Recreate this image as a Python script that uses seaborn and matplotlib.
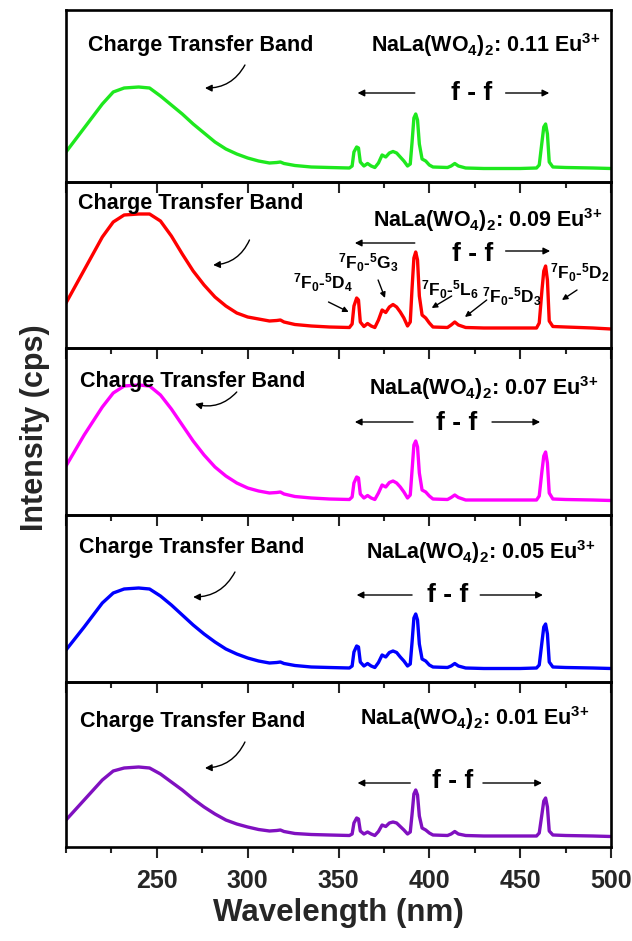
import numpy as np
import pandas as pd
import matplotlib
matplotlib.use("Agg")
import matplotlib.pyplot as plt
import seaborn as sns
from matplotlib.ticker import MultipleLocator

# ---------------- data ----------------
wavelength = [200, 210, 220, 226, 232, 240, 246, 252, 258, 264, 270, 276, 282, 288, 294,
              300, 306, 312, 316, 318, 320, 326, 335, 345, 356, 357.5, 358.5, 360, 361,
              362, 364, 366, 368, 370, 372, 374, 376, 378, 380, 382, 384, 386, 388,
              389.5, 390.5, 391.5, 392.5, 393.5, 394.5, 396, 398, 400, 402, 410, 412,
              414, 416, 420, 430, 450, 459, 460.5, 462, 463, 464, 465, 466, 468, 475,
              490, 500]

int_011 = [30, 54, 78, 90, 94, 95, 94, 86, 77, 68, 58, 49, 40, 33, 28,
           24, 21, 19, 19.5, 20, 18.5, 16.5, 15, 14.5, 14, 16, 30, 35, 34,
           20, 16, 18.5, 16, 14.5, 19, 27, 25, 29, 30.5, 29, 25, 21, 16,
           18, 40, 64, 68, 62, 38, 23, 21, 17, 15, 14.5, 16,
           18.5, 16, 14, 13.5, 13.5, 14, 17, 40, 55, 58, 48, 20, 15, 14.5,
           14, 13.5]

int_009 = [45, 78, 111, 126, 133, 134, 134, 127, 112, 94, 77, 63, 51, 42, 35,
           31, 29, 27, 27.5, 28, 26, 23.5, 22, 21, 20.5, 24, 42, 50, 48,
           26, 21.5, 24.5, 22, 20.5, 28, 38, 35.5, 41, 43.5, 41, 36, 30, 22,
           26, 60, 90, 96, 88, 52, 33, 30, 25, 21, 20.5, 23,
           26, 23, 20.5, 20, 20, 20, 25, 58, 77, 82, 68, 27, 21.5, 21,
           20, 19]

int_007 = [49, 80, 108, 122, 129, 130, 129, 120, 106, 90, 74, 60, 48, 39, 32,
           27, 24, 22, 22.5, 23, 21, 18.5, 17, 16, 15.5, 18, 32, 38, 37,
           21, 17, 19.5, 17, 15.5, 22, 30, 28, 32.5, 34, 32, 28, 23, 17,
           20, 45, 70, 74, 68, 42, 25, 23, 19, 16, 15.5, 17.5,
           20, 17.5, 15, 15, 15, 15, 19, 44, 59, 63, 52, 22, 16, 15.5,
           15, 14.5]

int_005 = [32, 55, 79, 89, 93, 94, 93, 86, 77, 67, 57, 48, 40, 33, 28,
           24, 21, 19, 19.5, 20, 18.5, 16.5, 15, 14.5, 14, 16, 30, 36, 35,
           20, 16, 18.5, 16, 14.5, 19.5, 27, 25, 29.5, 31, 29.5, 25, 21, 16,
           18, 40, 64, 68, 62, 38, 23, 21, 17, 15, 14.5, 16,
           18.5, 16, 14, 13.5, 13.5, 14, 17, 40, 55, 58, 48, 20, 15, 14.5,
           14, 13.5]

int_001 = [27, 47, 67, 76, 79, 80, 79, 73, 65, 57, 48, 40, 33, 27, 23,
           20, 17.5, 16, 16.5, 17, 15.5, 13.5, 12.5, 12, 11.5, 13, 24, 29, 28,
           16, 13, 15, 13, 11.5, 15.5, 22, 20.5, 24, 25, 24, 20.5, 17, 13,
           15, 33, 53, 57, 52, 31, 19, 17, 14, 12, 11.5, 13,
           15.5, 13, 11.5, 11, 11, 11, 14, 33, 46, 49, 40, 16, 12, 11.5,
           11, 10.5]

series = [int_011, int_009, int_007, int_005, int_001]
conc_labels = ["0.11", "0.09", "0.07", "0.05", "0.01"]
colors = ["#1ee81e", "#ff0000", "#ff00ff", "#0000ff", "#8010c0"]
panel_heights = [172, 166, 167, 167, 165]

x_ticks = [250, 300, 350, 400, 450, 500]

# ---------------- style ----------------
sns.set_theme(style="ticks")
plt.rcParams['font.family'] = ['Liberation Sans', 'DejaVu Sans']
plt.rcParams['font.weight'] = 'bold'
plt.rcParams['mathtext.default'] = 'regular'

fig = plt.figure(figsize=(6.32, 9.41), dpi=100)
fig.patch.set_facecolor("white")
gs = fig.add_gridspec(5, 1, left=66/632, right=611/632, top=1-10/941, bottom=1-847/941,
                      hspace=0, height_ratios=panel_heights)
axes = [fig.add_subplot(gs[i]) for i in range(5)]

# annotation settings per panel (data coords: wavelength, intensity)
ctb_pos = [(274, 137), (268.5, 145), (270, 134), (269, 135), (270, 125)]
lab_pos = [(431, 137), (432, 128), (430, 127), (428, 130), (425, 129)]
ff_pos = [(423.5, 89), (424, 94), (415, 92), (410, 87), (413, 66)]
larrow = [((392, 89), (360.5, 89)), ((392, 105), (359, 105)), ((391, 93), (359, 93)),
          ((390.5, 87), (360, 87)), ((389.5, 64), (360.5, 64))]
rarrow = [((442, 89), (466, 89)), ((442, 97), (466.5, 97)), ((434.5, 93), (461, 93)),
          ((428, 87), (462.5, 87)), ((429.5, 64), (462, 64))]
ctarrow = [((298.5, 117), (276.5, 94)), ((301, 108), (281, 83)), ((294, 123), (271, 111)),
           ((293, 110), (270, 85)), ((298.5, 105), (276.5, 79))]

for i, ax in enumerate(axes):
    df = pd.DataFrame({"Wavelength": wavelength, "Intensity": series[i]})
    sns.lineplot(data=df, x="Wavelength", y="Intensity", ax=ax, color=colors[i],
                 lw=2.4, sort=False, legend=False)
    ax.set_xlim(200, 500)
    ax.set_ylim(0, panel_heights[i])
    ax.set_yticks([])
    ax.set_ylabel("")
    ax.set_xlabel("")
    ax.xaxis.set_major_locator(MultipleLocator(50))
    ax.xaxis.set_minor_locator(MultipleLocator(25))
    ax.tick_params(axis='x', which='major', direction='out', length=8, width=1.5,
                   bottom=True, top=False, labelsize=18, pad=8)
    ax.tick_params(axis='x', which='minor', direction='out', length=4.5, width=1.5,
                   bottom=True, top=False)
    ax.patch.set_alpha(0)
    for s in ax.spines.values():
        s.set_linewidth(1.9)
        s.set_color("black")
    if i < 4:
        ax.tick_params(axis='x', labelbottom=False)
    else:
        ax.set_xticks(x_ticks)
        for t in ax.get_xticklabels():
            t.set_fontweight('bold')

    ax.text(*ctb_pos[i], "Charge Transfer Band", ha='center', va='center',
            fontsize=15.5, fontweight='bold', color='black')
    ax.text(*lab_pos[i], "NaLa(WO$_4$)$_2$: " + conc_labels[i] + " Eu$^{3{+}}$",
            ha='center', va='center', fontsize=15.5, fontweight='bold', color='black')
    ax.text(*ff_pos[i], "f - f", ha='center', va='center', fontsize=19,
            fontweight='bold', color='black')
    for (s, e) in (larrow[i], rarrow[i]):
        ax.annotate("", xy=e, xytext=s,
                    arrowprops=dict(arrowstyle='-|>', lw=1.0, color='black',
                                    mutation_scale=10, shrinkA=0, shrinkB=0))
    s, e = ctarrow[i]
    ax.annotate("", xy=e, xytext=s,
                arrowprops=dict(arrowstyle='-|>', lw=1.0, color='black',
                                mutation_scale=10, shrinkA=0, shrinkB=0,
                                connectionstyle='arc3,rad=-0.3'))

# transition labels in the 0.09 panel
trans_text = ["$^7$F$_0$-$^5$D$_4$", "$^7$F$_0$-$^5$G$_3$", "$^7$F$_0$-$^5$L$_6$",
              "$^7$F$_0$-$^5$D$_3$", "$^7$F$_0$-$^5$D$_2$"]
trans_pos = [(341.5, 65), (366.2, 85), (411.4, 58), (445.5, 51), (483, 75)]
trans_arrow = [((344.5, 46), (355.6, 36)), ((371.8, 68), (375.6, 50)),
               ((412.3, 52), (401.3, 40)), ((431.6, 48), (419.6, 31)),
               ((481.3, 58), (473, 48))]
ax2 = axes[1]
for t, p, (s, e) in zip(trans_text, trans_pos, trans_arrow):
    ax2.text(*p, t, ha='center', va='center', fontsize=12.5, fontweight='bold', color='black')
    ax2.annotate("", xy=e, xytext=s,
                 arrowprops=dict(arrowstyle='-|>', lw=1.0, color='black',
                                 mutation_scale=8, shrinkA=0, shrinkB=0))

fig.text(35/632, 1-428/941, "Intensity (cps)", rotation=90, ha='center', va='center',
         fontsize=22, fontweight='bold')
fig.text((66+611)/2/632, 1-913/941, "Wavelength (nm)", ha='center', va='center',
         fontsize=22.5, fontweight='bold')

fig.savefig("out.png", dpi=100, facecolor="white")
